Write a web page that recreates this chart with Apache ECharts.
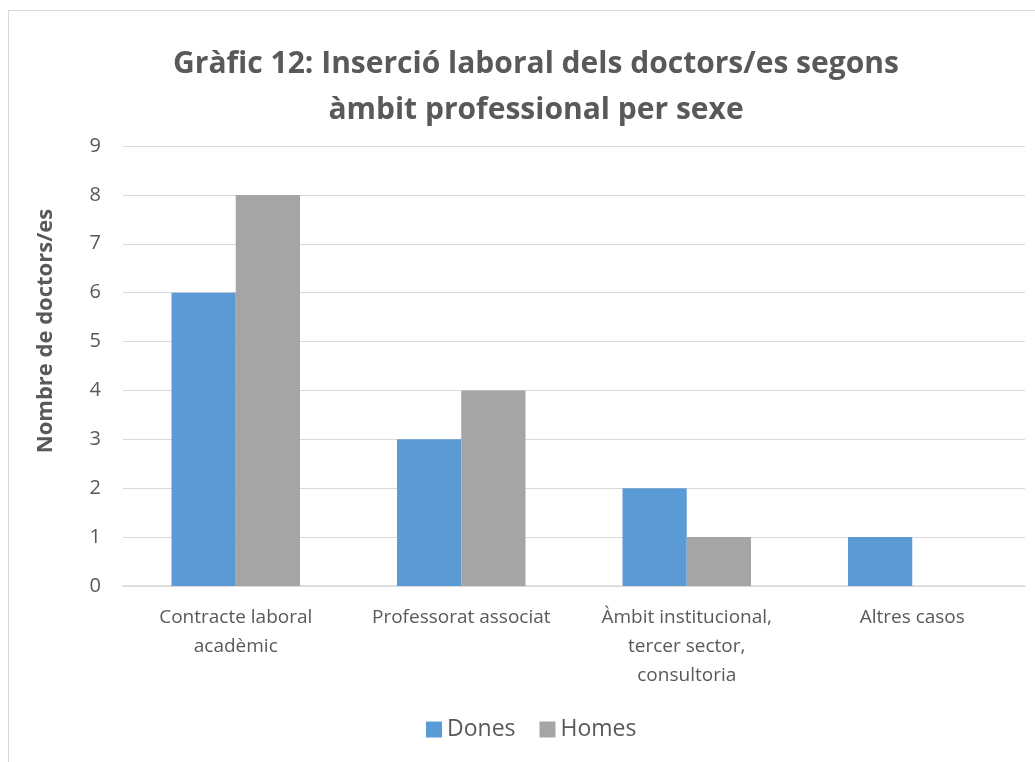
<!DOCTYPE html>
<html>
<head>
<meta charset="utf-8">
<script src="https://cdn.jsdelivr.net/npm/echarts@6/dist/echarts.min.js"></script>
<style>
  html, body { margin: 0; padding: 0; background: #fff; }
  #frame {
    position: absolute; left: 8px; top: 10px; width: 1040px; height: 770px;
    border: 1px solid #d9d9d9; box-sizing: border-box;
  }
  #main { position: absolute; left: 0; top: 0; width: 1035px; height: 762px; }
</style>
</head>
<body>
<div id="frame"></div>
<div id="main"></div>
<script>
  // dades del gràfic
  var categories = [
    "Contracte laboral\nacadèmic",
    "Professorat associat",
    "Àmbit institucional,\ntercer sector,\nconsultoria",
    "Altres casos"
  ];
  var dones = [6, 3, 2, 1];
  var homes = [8, 4, 1, 0];

  var font = "Open Sans";
  var grey = "#595959";

  var myChart = echarts.init(document.getElementById("main"));
  var option = {
    backgroundColor: "transparent",
    title: {
      text: "Gràfic 12: Inserció laboral dels doctors/es segons\nàmbit professional per sexe",
      left: 531,
      top: 36,
      textAlign: "center",
      textStyle: {
        fontFamily: font,
        fontSize: 30,
        fontWeight: "bold",
        color: grey,
        lineHeight: 46
      }
    },
    // títol de l'eix vertical (una mica més amunt que el centre, com a l'original)
    graphic: [
      {
        type: "text",
        x: 46,
        y: 331,
        rotation: Math.PI / 2,
        style: {
          text: "Nombre de doctors/es",
          fontFamily: font,
          fontSize: 22,
          fontWeight: "bold",
          fill: grey,
          align: "center",
          verticalAlign: "middle"
        }
      }
    ],
    legend: {
      bottom: 16,
      left: 421,
      itemWidth: 16,
      itemHeight: 16,
      itemGap: 24,
      icon: "rect",
      textStyle: { fontFamily: font, fontSize: 23, color: grey },
      data: ["Dones", "Homes"]
    },
    grid: {
      left: 123,
      right: 10,
      top: 146,
      bottom: 176,
      containLabel: false
    },
    xAxis: {
      type: "category",
      data: categories,
      axisTick: { show: false },
      axisLine: { lineStyle: { color: "#d9d9d9", width: 1.5 } },
      axisLabel: {
        fontFamily: font,
        fontSize: 19,
        color: grey,
        lineHeight: 29,
        margin: 17,
        interval: 0
      }
    },
    yAxis: {
      type: "value",
      min: 0,
      max: 9,
      interval: 1,
      axisLine: { show: false },
      axisTick: { show: false },
      axisLabel: { fontFamily: font, fontSize: 20, color: grey, margin: 22 },
      splitLine: { lineStyle: { color: "#d9d9d9", width: 1.2 } }
    },
    series: [
      {
        name: "Dones",
        type: "bar",
        data: dones,
        barGap: "0%",
        barCategoryGap: "43%",
        itemStyle: { color: "#5b9bd5" }
      },
      {
        name: "Homes",
        type: "bar",
        data: homes,
        itemStyle: { color: "#a5a5a5" }
      }
    ]
  };
  option && myChart.setOption(option);
</script>
</body>
</html>
